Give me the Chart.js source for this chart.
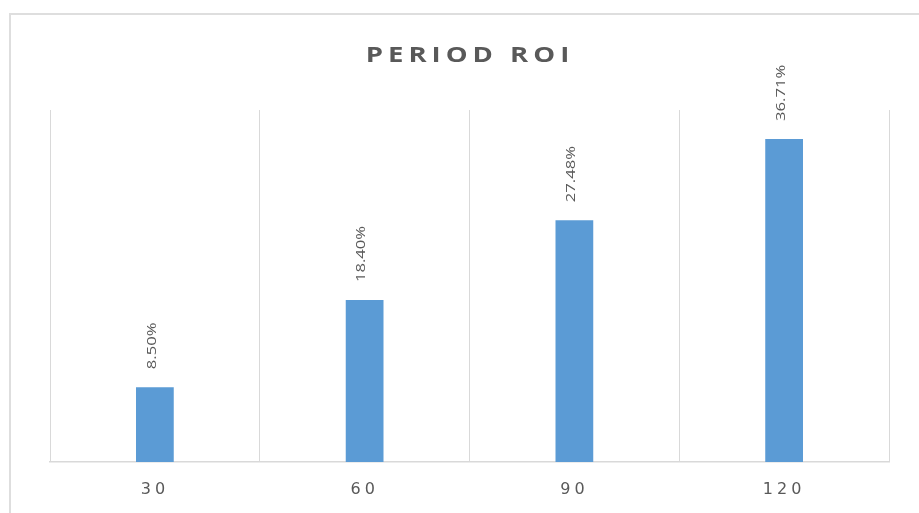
<!DOCTYPE html>
<html>
<head>
<meta charset="utf-8">
<style>
  html, body { margin: 0; padding: 0; background: #fff; overflow: hidden; }
  #roiChart { display: block; }
</style>
<script src="https://cdn.jsdelivr.net/npm/chart.js@4"></script>
</head>
<body>
<canvas id="roiChart" width="919" height="513"></canvas>
<script>
// Chart data
const periods = ['30', '60', '90', '120'];
const roiValues = [8.50, 18.40, 27.48, 36.71];
const yMin = 0;
const yMax = 40;
const chartTitle = 'PERIOD ROI';

// Frame, title and value labels
const framePlugin = {
    id: 'frame',
    beforeDraw(chart) {
        const ctx = chart.ctx;
        ctx.save();
        ctx.strokeStyle = '#dedede';
        ctx.lineWidth = 2;
        ctx.strokeRect(10, 14, 1200, 1200);
        // title (slightly stretched, wide tracking)
        ctx.fillStyle = '#595959';
        ctx.font = 'bold 22px "Open Sans"';
        ctx.letterSpacing = '4px';
        ctx.textAlign = 'center';
        ctx.textBaseline = 'middle';
        ctx.translate(470, 56);
        ctx.scale(1.25, 1);
        ctx.fillText(chartTitle, 0, 0);
        ctx.restore();
        // spacing for the x tick labels
        ctx.letterSpacing = '4px';
    },
    beforeDatasetsDraw(chart) {
        chart.ctx.letterSpacing = '0px';
    },
    afterDatasetsDraw(chart) {
        const ctx = chart.ctx;
        const meta = chart.getDatasetMeta(0);
        ctx.save();
        ctx.fillStyle = '#595959';
        ctx.font = '13px "Open Sans"';
        ctx.letterSpacing = '0px';
        ctx.textAlign = 'left';
        ctx.textBaseline = 'middle';
        meta.data.forEach((bar, i) => {
            ctx.save();
            ctx.translate(bar.x - 3, bar.y - 18);
            ctx.rotate(-Math.PI / 2);
            ctx.scale(1.28, 1);
            ctx.fillText(roiValues[i].toFixed(2) + '%', 0, 0);
            ctx.restore();
        });
        ctx.restore();
    }
};

const roiCtx = document.getElementById('roiChart').getContext('2d');
const roiChart = new Chart(roiCtx, {
    type: 'bar',
    data: {
        labels: periods,
        datasets: [{
            data: roiValues,
            backgroundColor: '#5b9bd5',
            borderWidth: 0,
            categoryPercentage: 1,
            barPercentage: 0.18
        }]
    },
    options: {
        responsive: false,
        animation: false,
        layout: {
            padding: { left: 50, right: 30, top: 110, bottom: 0 }
        },
        plugins: {
            legend: { display: false },
            title: { display: false },
            tooltip: { enabled: false }
        },
        scales: {
            x: {
                grid: {
                    color: '#d9d9d9',
                    lineWidth: 1,
                    offset: true,
                    drawTicks: false
                },
                border: {
                    color: '#d9d9d9',
                    width: 1.5
                },
                ticks: {
                    color: '#595959',
                    font: { family: 'DejaVu Sans', size: 16 },
                    padding: 18
                },
                afterFit(scale) {
                    scale.height = 51;
                }
            },
            y: {
                display: false,
                min: yMin,
                max: yMax
            }
        }
    },
    plugins: [framePlugin]
});
</script>
</body>
</html>
